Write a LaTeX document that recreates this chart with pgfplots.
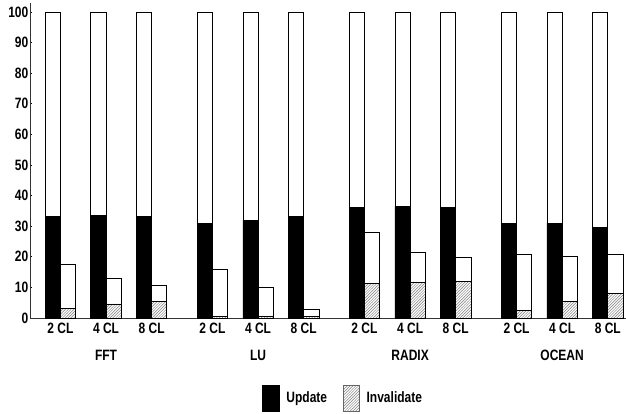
\documentclass[border=0pt]{standalone}
\usepackage{pgfplots}
\pgfplotsset{compat=1.18}
\usepackage{fontspec}
\setmainfont[FakeStretch=0.8]{Liberation Sans}
\usetikzlibrary{patterns}
\pgfdeclarepatternformonly{finehatch}{\pgfqpoint{-1pt}{-1pt}}{\pgfqpoint{4pt}{4pt}}{\pgfqpoint{2.8pt}{2.8pt}}{%
  \pgfsetlinewidth{0.45pt}\pgfpathmoveto{\pgfqpoint{-0.1pt}{-0.1pt}}\pgfpathlineto{\pgfqpoint{2.9pt}{2.9pt}}\pgfusepath{stroke}}
\begin{document}
\begin{tikzpicture}[x=1pt,y=1pt]
\begin{axis}[
  scale only axis, width=596pt, height=315.2pt,
  xmin=-1, xmax=38.2, ymin=0, ymax=103,
  axis lines*=left,
  axis line style={line width=0.8pt, black!80},
  ytick={0,10,...,100},
  xtick={1,4,7,11,14,17,21,24,27,31,34,37},
  xticklabels={2 CL,4 CL,8 CL,2 CL,4 CL,8 CL,2 CL,4 CL,8 CL,2 CL,4 CL,8 CL},
  x tick style={draw=none},
  y tick style={black, line width=0.6pt},
  tick align=inside, major tick length=2pt,
  /pgf/number format/assume math mode=true,
  tick label style={font=\fontsize{15}{16}\selectfont\bfseries},
  yticklabel style={inner xsep=1.5pt},
  xticklabel style={inner ysep=3pt},
  ybar, bar width=1,
  clip=false,
  legend style={at={(0.525,-0.254)}, anchor=center, draw=none, fill=none,
    legend columns=2, font=\fontsize{15}{16}\selectfont\bfseries,
    /tikz/every odd column/.append style={column sep=5pt},
    /tikz/every even column/.append style={column sep=14pt},
    legend cell align=left},
]
% full-height white bars (left of each pair)
\addplot[bar shift=0pt, fill=white, draw=black, line width=0.7pt, forget plot] coordinates {
 (0.5,100) (3.5,100) (6.5,100) (10.5,100) (13.5,100) (16.5,100)
 (20.5,100) (23.5,100) (26.5,100) (30.5,100) (33.5,100) (36.5,100)};
% totals for right bars
\addplot[bar shift=0pt, fill=white, draw=black, line width=0.7pt, forget plot] coordinates {
 (1.5,17.6) (4.5,12.8) (7.5,10.8) (11.5,15.8) (14.5,10.0) (17.5,2.8)
 (21.5,28.1) (24.5,21.4) (27.5,19.8) (31.5,20.8) (34.5,20.0) (37.5,20.8)};
% Update
\addplot[bar shift=0pt, fill=black, draw=black, line width=0.7pt,
  legend image code/.code={\fill[black] (0pt,-13pt) rectangle (17pt,13pt);}] coordinates {
 (0.5,33.3) (3.5,33.6) (6.5,33.3) (10.5,30.8) (13.5,32.0) (16.5,33.3)
 (20.5,36.2) (23.5,36.5) (26.5,36.2) (30.5,31.0) (33.5,31.0) (36.5,29.7)};
\addlegendentry{Update}
% Invalidate
\addplot[bar shift=0pt, pattern=finehatch, pattern color=black!50, draw=black, line width=0.7pt,
  legend image code/.code={\draw[pattern=finehatch, pattern color=black!50, draw=black!60, line width=0.5pt] (0pt,-13pt) rectangle (16pt,13pt);}] coordinates {
 (1.5,3.05) (4.5,4.6) (7.5,5.5) (11.5,0.5) (14.5,0.4) (17.5,0.5)
 (21.5,11.3) (24.5,11.6) (27.5,11.9) (31.5,2.5) (34.5,5.5) (37.5,7.9)};
\addlegendentry{Invalidate}
\node[font=\fontsize{15}{16}\selectfont\bfseries] at (axis cs:4,0) [yshift=-37pt] {FFT};
\node[font=\fontsize{15}{16}\selectfont\bfseries] at (axis cs:14,0) [yshift=-37pt] {LU};
\node[font=\fontsize{15}{16}\selectfont\bfseries] at (axis cs:24,0) [yshift=-37pt] {RADIX};
\node[font=\fontsize{15}{16}\selectfont\bfseries] at (axis cs:34,0) [yshift=-37pt] {OCEAN};
\end{axis}
\pgfresetboundingbox
\path[use as bounding box] (-30,-96) rectangle (596,318);
\end{tikzpicture}
\end{document}
